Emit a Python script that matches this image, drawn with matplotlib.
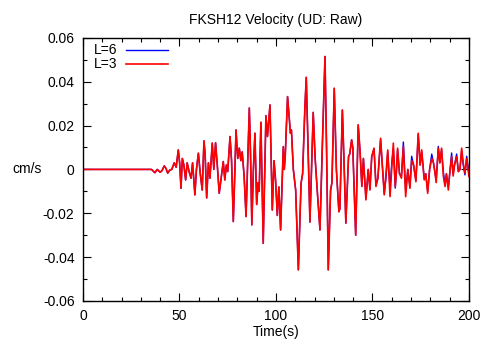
import matplotlib
matplotlib.use("Agg")
import matplotlib.pyplot as plt
from matplotlib.ticker import MultipleLocator, FuncFormatter

plt.rcParams['font.family'] = ['Liberation Sans', 'DejaVu Sans']

title = "FKSH12 Velocity (UD: Raw)"
xlabel = "Time(s)"
ylabel = "cm/s"
series_names = ["L=6", "L=3"]

time_s = [0, 35.5, 37.3, 38.5, 40, 41, 42.1, 43, 43.9, 45, 46, 47.3, 48.3, 49.4, 50.1, 50.8,
          51.5, 52.3, 53.2, 54.0, 55.0, 56.0, 56.8, 58.0, 58.8, 59.8, 60.8, 61.8, 62.7, 63.3,
          64.1, 65.0, 65.8, 67.0, 67.8, 68.7, 69.6, 70.6, 71.6, 72.7, 73.5, 74.3, 75.0, 76.2,
          77.0, 77.9, 78.6, 79.3, 80.2, 81.0, 81.8, 82.5, 83.5, 84.5, 85.3, 86.2, 86.8, 87.5,
          88.3, 89.1, 90.0, 90.8, 91.3, 92.2, 93.4, 94.8, 95.6, 96.9, 98.1, 99.0, 99.8, 100.7,
          101.5, 102.4, 103.8, 104.3, 104.8, 106.0, 106.8, 107.5, 108.0, 109.0, 110.2, 111.6,
          113.0, 113.8, 115.0, 115.7, 116.5, 117.6, 119.3, 120.3, 121.6, 122.8, 124.0, 125.4,
          126.2, 127.1, 128.3, 129.0, 130.2, 131.3, 132.6, 133.1, 134.4, 135.2, 136.2, 137.6,
          138.2, 139.2, 139.8, 141.3, 142.6, 143.5, 144.5, 145.3, 146.6, 147.8, 148.7, 149.6,
          150.8, 151.8, 152.8, 154.2, 155.0, 156.1, 157.0, 157.9, 159.1, 160.0, 160.8, 161.8,
          162.4, 163.0, 164.0, 165.0, 166.0, 167.2, 168.3, 169.4, 170.3, 171.3, 172.5, 173.7,
          174.7, 175.5, 176.8, 177.6, 178.6, 179.6, 180.7, 181.6, 182.3, 183.0, 184.1, 184.9,
          185.8, 186.7, 187.6, 188.3, 189.3, 190.0, 191.0, 191.8, 192.5, 193.6, 194.5, 195.3,
          196.2, 197.0, 197.9, 198.8, 200]

vel_L3 = [0, 0, -0.0015, 0.0, -0.0013, -0.0005, 0.0016, 0.0005, -0.0017, -0.0003, 0.0, 0.003,
          0.001, 0.0089, 0.003, -0.0086, 0.005, 0.002, -0.0048, 0.003, -0.001, -0.004, 0.003,
          -0.0116, 0.0, 0.0074, -0.002, -0.0094, 0.013, 0.007, -0.013, 0.003, -0.004, 0.012,
          0.0, 0.0122, 0.002, -0.0109, -0.004, 0.0036, -0.0048, 0.002, -0.001, 0.015, 0.004,
          -0.0238, -0.004, 0.018, 0.005, 0.0097, 0.004, 0.008, -0.003, -0.0215, 0.002, 0.028,
          0.008, -0.0253, 0.0, 0.0165, -0.016, -0.006, -0.010, 0.0215, -0.0337, 0.0245, 0.015,
          0.0294, -0.0185, 0.004, -0.005, -0.021, -0.008, -0.0276, 0.0104, 0.0, 0.006, 0.0332,
          0.024, 0.0165, 0.018, 0.0, -0.0094, -0.0458, -0.0063, -0.002, 0.0286, 0.042, 0.015,
          -0.024, 0.026, 0.005, -0.0124, -0.0276, 0.010, 0.0515, 0.010, -0.0458, -0.0094,
          -0.006, 0.037, 0.0, -0.0193, -0.018, 0.0271, 0.005, -0.0245, 0.0058, 0.007, 0.0135,
          0.010, -0.030, 0.0203, 0.009, -0.0078, 0.005, -0.0139, 0.0, -0.0094, 0.0058, 0.0097,
          -0.0078, -0.004, 0.0142, 0.003, -0.0116, -0.002, 0.0089, -0.0124, 0.001, 0.012,
          -0.0078, -0.001, 0.0097, -0.002, -0.004, 0.0104, -0.0124, 0.0, -0.0086, 0.004, 0.002,
          -0.0056, 0.0165, 0.002, 0.0089, -0.0048, -0.002, -0.0109, 0.0, 0.005, 0.003, -0.001,
          -0.006, 0.0097, 0.003, 0.0097, -0.003, -0.0078, -0.002, -0.0094, -0.002, 0.0058,
          -0.003, 0.002, 0.0058, -0.001, 0.0, 0.0097, 0.003, -0.0017, 0.005, -0.0033]

vel_L6 = [0, 0, -0.0015, 0.0, -0.0013, -0.0005, 0.0016, 0.0005, -0.0017, -0.0003, 0.0, 0.003,
          0.001, 0.0089, 0.003, -0.0086, 0.005, 0.002, -0.0048, 0.003, -0.001, -0.004, 0.003,
          -0.0116, 0.0, 0.0074, -0.002, -0.0094, 0.013, 0.007, -0.013, 0.003, -0.004, 0.012,
          0.0, 0.0122, 0.002, -0.0109, -0.004, 0.0036, -0.0048, 0.002, -0.001, 0.015, 0.004,
          -0.0238, -0.004, 0.018, 0.005, 0.0097, 0.004, 0.008, -0.003, -0.0215, 0.002, 0.028,
          0.008, -0.0253, 0.0, 0.0165, -0.016, -0.006, -0.010, 0.0215, -0.0337, 0.0245, 0.015,
          0.0294, -0.0185, 0.004, -0.005, -0.021, -0.008, -0.0276, 0.0104, 0.0, 0.006, 0.0332,
          0.024, 0.0165, 0.018, 0.0, -0.0094, -0.0458, -0.0063, -0.002, 0.0286, 0.042, 0.015,
          -0.024, 0.026, 0.005, -0.0124, -0.0276, 0.010, 0.0515, 0.010, -0.0458, -0.0094,
          -0.006, 0.037, 0.0, -0.0193, -0.018, 0.0271, 0.005, -0.0245, 0.0058, 0.007, 0.0135,
          0.010, -0.030, 0.0203, 0.009, -0.0075, 0.005, -0.0132, 0.0, -0.0090, 0.0058, 0.0095,
          -0.0072, -0.004, 0.0135, 0.003, -0.0110, -0.004, 0.0080, -0.0090, 0.003, 0.0095,
          -0.0085, -0.001, 0.0090, -0.002, -0.003, 0.0125, -0.0100, 0.0, -0.0080, 0.006, 0.002,
          -0.0050, 0.0160, 0.002, 0.0080, -0.0040, -0.002, -0.0100, 0.0, 0.007, 0.003, -0.001,
          -0.005, 0.0105, 0.003, 0.0090, -0.001, -0.0070, -0.002, -0.0080, -0.002, 0.0075,
          -0.002, 0.002, 0.0070, -0.001, 0.0, 0.0085, 0.002, -0.0025, 0.0060, -0.0020]

fig = plt.figure(figsize=(4.85, 3.44), dpi=100)
ax = fig.add_axes([0.171, 0.125, 0.796, 0.765])

ax.plot(time_s, vel_L6, color="#0000ff", lw=1.0, label=series_names[0])
ax.plot(time_s, vel_L3, color="#ff0000", lw=1.2, label=series_names[1])

ax.set_xlim(0, 200)
ax.set_ylim(-0.06, 0.06)
ax.xaxis.set_major_locator(MultipleLocator(50))
ax.xaxis.set_minor_locator(MultipleLocator(10))
ax.yaxis.set_major_locator(MultipleLocator(0.02))
ax.yaxis.set_minor_locator(MultipleLocator(0.01))

def yfmt(v, pos):
    if abs(v) < 1e-9:
        return "0"
    return "%.2f" % v
ax.yaxis.set_major_formatter(FuncFormatter(yfmt))

ax.tick_params(which="both", direction="in", top=True, right=True, labelsize=10, colors="black")
ax.tick_params(which="major", length=6, width=0.8, pad=6)
ax.tick_params(which="minor", length=3, width=0.8)
for s in ax.spines.values():
    s.set_linewidth(1.0)

ax.set_title(title, fontsize=10, pad=10)
ax.set_xlabel(xlabel, fontsize=10, labelpad=1)
ax.set_ylabel(ylabel, fontsize=10, rotation=0, labelpad=10, va="center", ha="center")
ax.yaxis.set_label_coords(-0.145, 0.5)

ax.legend(loc="upper left", bbox_to_anchor=(0.015, 1.0), frameon=False, markerfirst=False,
          fontsize=10, handlelength=3.0, handletextpad=0.6, borderaxespad=0.1,
          labelspacing=0.0, borderpad=0.3)

fig.savefig("out.png", dpi=100)
